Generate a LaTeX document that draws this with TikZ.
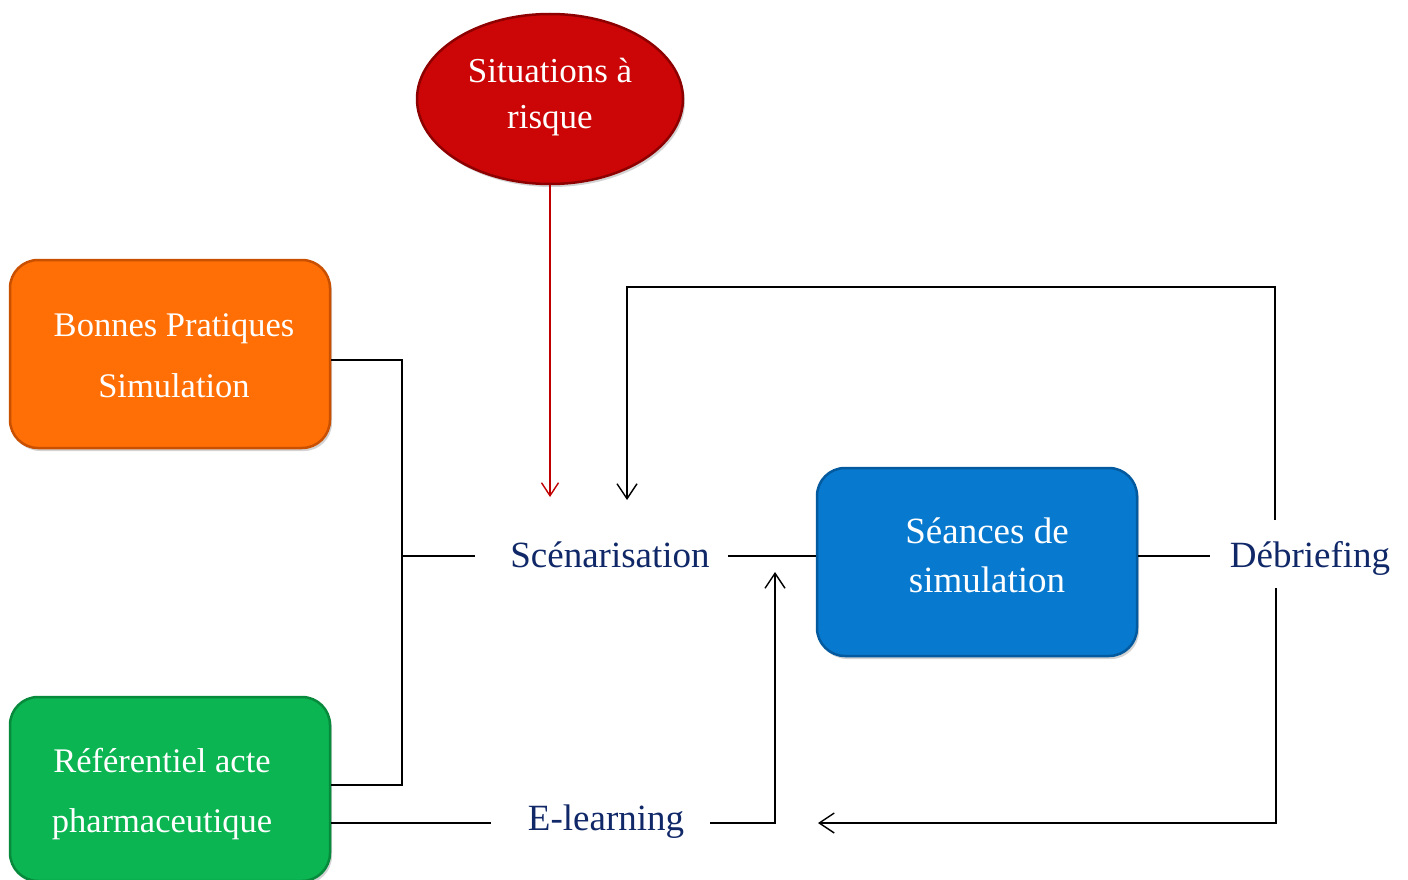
\documentclass[tikz,border=0pt]{standalone}
\usepackage{fontspec}
\setmainfont{Liberation Serif}
\usetikzlibrary{arrows.meta,shapes.geometric,shadows}
\definecolor{navy}{HTML}{102868}
\definecolor{orfill}{HTML}{FF6F05}
\definecolor{oredge}{HTML}{C95000}
\definecolor{grfill}{HTML}{0BB552}
\definecolor{gredge}{HTML}{078A3C}
\definecolor{blfill}{HTML}{0779CF}
\definecolor{bledge}{HTML}{045A9E}
\definecolor{rdfill}{HTML}{CC0606}
\definecolor{rdedge}{HTML}{8E0000}
\definecolor{rdline}{HTML}{C00000}
\tikzset{
  box/.style={rounded corners=28pt, line width=2.5pt, minimum width=320pt, inner sep=0pt,
    drop shadow={shadow xshift=2pt, shadow yshift=-3pt, opacity=0.35}},
  wtxt/.style={text=white, align=center, inner sep=0pt},
  lbl/.style={text=navy, inner sep=0pt, font=\fontsize{37}{44}\selectfont},
  conn/.style={line width=1.4pt, black},
  arr/.style={conn, -{Straight Barb[length=15pt,width=20pt,line width=1.4pt]}},
  rarr/.style={line width=1.4pt, rdline, -{Straight Barb[length=13pt,width=17pt,line width=1.4pt]}}
}
\begin{document}
\begin{tikzpicture}[x=1pt,y=-1pt]
\useasboundingbox (0,0) rectangle (1408,880);
% boxes
\node[box, fill=orfill, draw=oredge, minimum height=188pt] (bp) at (170,354) {};
\node[box, fill=grfill, draw=gredge, minimum height=184pt] (rf) at (170,789) {};
\node[box, fill=blfill, draw=bledge, minimum height=188pt] (sl) at (977,562) {};
\node[ellipse, fill=rdfill, draw=rdedge, line width=2.5pt,
      minimum width=266pt, minimum height=170pt, inner sep=0pt,
      drop shadow={shadow xshift=2pt, shadow yshift=-3pt, opacity=0.35}] (sr) at (550,99) {};
% box texts
\node[wtxt, font=\fontsize{34.5}{61}\selectfont] (bpt) at (174,356) {Bonnes Pratiques\\Simulation};
\node[wtxt, font=\fontsize{34.5}{60}\selectfont] (rft) at (162,794) {R\'ef\'erentiel acte\\pharmaceutique};
\node[wtxt, font=\fontsize{37}{49}\selectfont] (slt) at (987,555.5) {S\'eances de\\simulation};
\node[wtxt, font=\fontsize{35}{46}\selectfont] (srt) at (550,97) {Situations \`a\\risque};
% labels
\node[lbl] (sc) at (610,555) {Sc\'enarisation};
\node[lbl] (db) at (1310,558) {D\'ebriefing};
\node[lbl] (el) at (606,822) {E-learning};
% coordinates
\coordinate (j1) at (402,360);
\coordinate (j2) at (402,556);
\coordinate (j3) at (402,785);
\coordinate (scr) at (550,497);
\coordinate (scb) at (627,500);
\coordinate (tl) at (627,287);
\coordinate (tr) at (1275,287);
\coordinate (dbt) at (1275,520);
\coordinate (dbb) at (1276,588);
\coordinate (br) at (1276,823);
\coordinate (ba) at (818,823);
\coordinate (eu) at (775,823);
\coordinate (ea) at (775,572);
% connectors
\draw[conn] ([yshift=-6pt]bp.east) -- (j1) -- (j3) -- ([yshift=4pt]rf.east);
\draw[conn] (j2) -- ([xshift=-35pt]sc.west |- j2);
\draw[conn] ([xshift=18pt]sc.east |- j2) -- (sl.west |- j2);
\draw[conn] (sl.east |- j2) -- ([xshift=-20pt]db.west |- j2);
\draw[rarr] (sr.south) -- (scr);
\draw[arr] (dbt) -- (tr) -- (tl) -- (scb);
\draw[arr] (dbb) -- (br) -- (ba);
\draw[conn] (rf.east |- br) -- ([xshift=-37pt]el.west |- br);
\draw[arr] ([xshift=26pt]el.east |- br) -- (eu) -- (ea);
\end{tikzpicture}
\end{document}
